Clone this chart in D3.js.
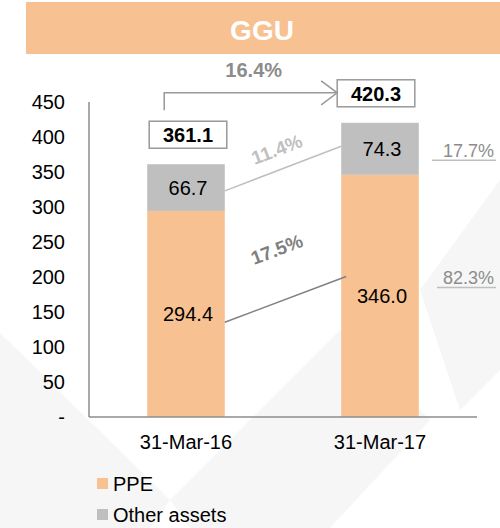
<!DOCTYPE html>
<html>
<head>
<meta charset="utf-8">
<script src="https://cdn.jsdelivr.net/npm/d3@7"></script>
<style>
  html, body { margin: 0; padding: 0; background: #fff; }
  svg { display: block; font-family: "Liberation Sans", Arial, sans-serif; }
</style>
</head>
<body>
<svg id="chart" width="500" height="528"></svg>
<script>
// chart data
const title = 'GGU';
const dates = ['31-Mar-16', '31-Mar-17'];
const ppe = [294.4, 346.0];
const otherAssets = [66.7, 74.3];
const totals = [361.1, 420.3];
const yTicks = [0, 50, 100, 150, 200, 250, 300, 350, 400, 450];
const totalGrowth = '16.4%';
const otherGrowth = '11.4%';
const ppeGrowth = '17.5%';
const shareLabels = ['17.7%', '82.3%']; // other, ppe share for last year
const seriesNames = ['PPE', 'Other assets'];

const orange = '#f8c192';
const grey = '#bfbfbf';
const axisCol = '#8c8c8c';

const width = 500;
const height = 528;
const svg = d3.select('#chart');

// faint watermark shapes in the background
const bg = svg.append('g').attr('fill', '#f6f6f6');
[
  [[0, 333], [170, 500], [150, 528], [0, 528]],
  [[170, 500], [340, 330], [430, 420], [330, 528], [190, 528]],
  [[420, 290], [500, 180], [500, 370], [460, 410]],
].forEach((pts) => bg.append('polygon').attr('points', pts.map((p) => p.join(',')).join(' ')));

// title banner
svg.append('rect')
  .attr('x', 26).attr('y', 2).attr('width', width - 26).attr('height', 52)
  .attr('fill', orange);
svg.append('text')
  .attr('x', 262).attr('y', 40)
  .attr('text-anchor', 'middle')
  .attr('fill', '#fff')
  .attr('font-size', 28).attr('font-weight', 'bold')
  .text(title);

const x = d3.scaleBand().domain(dates).range([89, 477]).paddingInner(0.6).paddingOuter(0.3);
const y = d3.scaleLinear().domain([0, 450]).range([417, 102]);

// axes
const yAxis = d3.axisLeft(y)
  .tickValues(yTicks)
  .tickSize(0)
  .tickPadding(24)
  .tickFormat((d) => (d === 0 ? '-' : d));
const gy = svg.append('g').attr('transform', 'translate(89,0)').call(yAxis);
gy.select('.domain').remove();
gy.selectAll('text').attr('font-size', 20).attr('fill', '#000').attr('font-family', 'Liberation Sans, Arial, sans-serif');

const stackData = dates.map((d, i) => ({ date: d, ppe: ppe[i], other: otherAssets[i] }));
const stack = d3.stack().keys(['ppe', 'other'])(stackData);
const colors = { ppe: orange, other: grey };

const layers = svg.append('g')
  .selectAll('g')
  .data(stack)
  .join('g')
  .attr('fill', (s) => colors[s.key]);

layers.selectAll('rect')
  .data((s) => s)
  .join('rect')
  .attr('x', (d) => x(d.data.date))
  .attr('y', (d) => y(d[1]))
  .attr('width', x.bandwidth())
  .attr('height', (d) => y(d[0]) - y(d[1]));

// segment labels
layers.selectAll('text')
  .data((s) => s)
  .join('text')
  .attr('x', (d) => x(d.data.date) + x.bandwidth() / 2 + 2)
  .attr('y', (d) => (y(d[0]) + y(d[1])) / 2 + 7)
  .attr('text-anchor', 'middle')
  .attr('fill', '#000')
  .attr('font-size', 20)
  .text((d) => (d[1] - d[0]).toFixed(1));

// axis lines
svg.append('line')
  .attr('x1', 89).attr('x2', 89).attr('y1', y(450)).attr('y2', y(0))
  .attr('stroke', axisCol).attr('stroke-width', 1.5);
svg.append('line')
  .attr('x1', 89).attr('x2', 477).attr('y1', y(0)).attr('y2', y(0))
  .attr('stroke', axisCol).attr('stroke-width', 1.5);

// category labels
svg.append('g')
  .selectAll('text')
  .data(dates)
  .join('text')
  .attr('x', (d) => x(d) + x.bandwidth() / 2)
  .attr('y', 449)
  .attr('text-anchor', 'middle')
  .attr('font-size', 20)
  .text((d) => d);

// total boxes
const boxShift = [2, -4];
const totalG = svg.append('g')
  .selectAll('g')
  .data(totals)
  .join('g')
  .attr('transform', (d, i) => `translate(${x(dates[i]) + boxShift[i]},${y(d) - 43})`);
totalG.append('rect')
  .attr('width', x.bandwidth()).attr('height', 27)
  .attr('fill', '#fff').attr('stroke', '#999').attr('stroke-width', 1.5);
totalG.append('text')
  .attr('x', x.bandwidth() / 2).attr('y', 21)
  .attr('text-anchor', 'middle')
  .attr('font-size', 20).attr('font-weight', 'bold')
  .text((d) => d.toFixed(1));

// growth bracket between totals
const bx0 = x(dates[0]) + 17;
const bx1 = x(dates[1]) + boxShift[1];
const byTop = y(totals[1]) - 30;
const bracket = svg.append('g').attr('fill', 'none').attr('stroke', '#999').attr('stroke-width', 1.5);
bracket.append('path').attr('d', `M${bx0},${y(totals[0]) - 54}V${byTop}H${bx1}`);
bracket.append('path').attr('d', `M${bx1 - 16},${byTop - 12}L${bx1},${byTop}L${bx1 - 16},${byTop + 12}`);
svg.append('text')
  .attr('x', (bx0 + bx1) / 2 + 3).attr('y', 77)
  .attr('text-anchor', 'middle')
  .attr('fill', '#8c8c8c')
  .attr('font-size', 20).attr('font-weight', 'bold')
  .text(totalGrowth);

// connectors between segments with growth labels
const right0 = x(dates[0]) + x.bandwidth();
const left1 = x(dates[1]);
const connectors = [
  { from: ppe[0] + otherAssets[0] * 0.43, to: ppe[1] + otherAssets[1] * 0.55, col: '#bfbfbf', label: otherGrowth, lx: 277, ly: 150, ext: 0 },
  { from: ppe[0] * 0.46, to: ppe[1] * 0.58, col: '#808080', label: ppeGrowth, lx: 277, ly: 250, ext: 5 },
];
connectors.forEach((c) => {
  const x1 = right0;
  const x2 = left1 + c.ext;
  const y1 = y(c.from);
  const y2 = y(c.to);
  svg.append('line')
    .attr('x1', x1).attr('y1', y1).attr('x2', x2).attr('y2', y2)
    .attr('stroke', c.col).attr('stroke-width', 1.5);
  const ang = Math.atan2(y2 - y1, x2 - x1) * 180 / Math.PI;
  svg.append('text')
    .attr('transform', `translate(${c.lx},${c.ly}) rotate(${ang})`)
    .attr('text-anchor', 'middle')
    .attr('dy', 6)
    .attr('fill', c.col)
    .attr('font-size', 19).attr('font-weight', 'bold')
    .text(c.label);
});

// share labels on the right
const shareY = [y(ppe[1] + otherAssets[1] / 2), y(ppe[1] / 2)];
const shares = svg.append('g');
shareLabels.forEach((s, i) => {
  const cy = shareY[i] + [8, -12][i];
  shares.append('text')
    .attr('x', 494).attr('y', cy)
    .attr('text-anchor', 'end')
    .attr('fill', '#8c8c8c')
    .attr('font-size', 18)
    .text(s);
  shares.append('line')
    .attr('x1', [432, 437][i]).attr('x2', 496)
    .attr('y1', cy + 3.5).attr('y2', cy + 3.5)
    .attr('stroke', '#bfbfbf').attr('stroke-width', 1.5);
});

// legend
const legend = svg.append('g')
  .selectAll('g')
  .data(seriesNames)
  .join('g')
  .attr('transform', (d, i) => `translate(97,${478 + i * 31})`);
legend.append('rect')
  .attr('width', 11).attr('height', 11)
  .attr('fill', (d, i) => [orange, grey][i]);
legend.append('text')
  .attr('x', 16).attr('y', 13)
  .attr('font-size', 20)
  .text((d) => d);
</script>
</body>
</html>
